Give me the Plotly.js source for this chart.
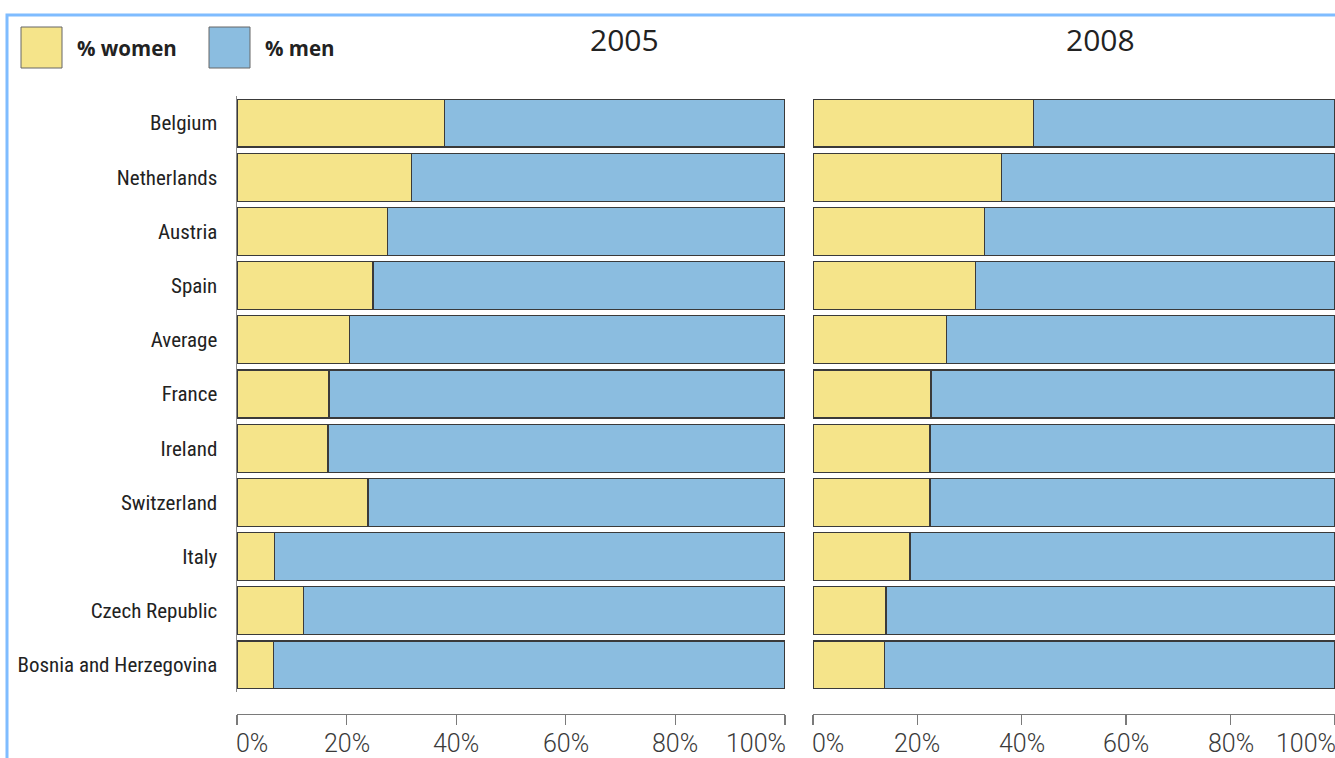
<!DOCTYPE html>
<html>
<head>
<meta charset="utf-8">
<script src="https://cdn.plot.ly/plotly-3.0.1.min.js"></script>
<style>html,body{margin:0;padding:0;background:#fff;}#chart{width:1335px;height:758px;}</style>
</head>
<body>
<div id="chart"></div>
<script>
// ---- data ----
const countries = ["Belgium", "Netherlands", "Austria", "Spain", "Average", "France", "Ireland", "Switzerland", "Italy", "Czech Republic", "Bosnia and Herzegovina"];
const women2005 = [37.8, 31.9, 27.4, 24.8, 20.6, 16.8, 16.6, 23.9, 6.9, 12.2, 6.6];
const men2005   = [62.2, 68.1, 72.6, 75.2, 79.4, 83.2, 83.4, 76.1, 93.1, 87.8, 93.4];
const women2008 = [42.3, 36.1, 32.8, 31.1, 25.6, 22.6, 22.4, 22.4, 18.6, 14.0, 13.7];
const men2008   = [57.7, 63.9, 67.2, 68.9, 74.4, 77.4, 77.6, 77.6, 81.4, 86.0, 86.3];
const panelTitles = ["2005", "2008"];
const seriesNames = ["% women", "% men"];
const tickVals = [0, 20, 40, 60, 80, 100];
const tickText = ["0%", "20%", "40%", "60%", "80%", "100%"];

// ---- style ----
const W = 1335, H = 758;
const yellow = "#f5e48a", blue = "#8bbde0", edge = "#3a3a3a";
const px = v => v / W, py = v => 1 - v / H;
const condensed = "Roboto Condensed, Liberation Sans Narrow, Arial Narrow, DejaVu Sans Condensed, sans-serif";

function barTrace(x, name, color, xa, ya) {
  return {
    type: "bar", orientation: "h", y: countries, x: x, name: name,
    xaxis: xa, yaxis: ya, showlegend: false,
    marker: {color: color, line: {color: edge, width: 1.2}},
    hoverinfo: "x+y"
  };
}

const data = [
  barTrace(women2005, seriesNames[0], yellow, "x", "y"),
  barTrace(men2005, seriesNames[1], blue, "x", "y"),
  barTrace(women2008, seriesNames[0], yellow, "x2", "y2"),
  barTrace(men2008, seriesNames[1], blue, "x2", "y2")
];

const xDomL = [px(237), px(785)];
const xDomR = [px(813), 1];
const yDom = [py(692), py(96)];
const axisPos = py(714);

const xaxisBase = {
  anchor: "free", position: axisPos, showline: true, linecolor: "#7a7a7a", linewidth: 1.4,
  ticks: "outside", ticklen: 10, tickcolor: "#7a7a7a", tickwidth: 1.4,
  tickmode: "array", tickvals: tickVals, showticklabels: false,
  showgrid: false, zeroline: false, fixedrange: true, range: [0, 100]
};

const annotations = [];
// panel titles
annotations.push({text: panelTitles[0], xref: "paper", yref: "paper", x: px(624), y: py(40), showarrow: false,
  xanchor: "center", yanchor: "middle", font: {family: "Open Sans, Noto Sans, sans-serif", size: 30, color: "#222"}});
annotations.push({text: panelTitles[1], xref: "paper", yref: "paper", x: px(1100), y: py(40), showarrow: false,
  xanchor: "center", yanchor: "middle", font: {family: "Open Sans, Noto Sans, sans-serif", size: 30, color: "#222"}});
// x tick labels (edge labels aligned inward as in the original)
["x", "x2"].forEach(ax => {
  tickVals.forEach((v, i) => {
    let anchor = "center";
    if (i === 0) anchor = "left";
    if (i === tickVals.length - 1) anchor = "right";
    annotations.push({text: tickText[i], xref: ax, yref: "paper", x: v, y: py(743), showarrow: false,
      xanchor: anchor, yanchor: "middle", xshift: i === 0 ? -3 : (i === tickVals.length - 1 ? 3 : 0),
      font: {family: "Roboto, Open Sans, sans-serif", size: 25, weight: 300, color: "#3a3a3a"}});
  });
});
// legend texts
annotations.push({text: "<b>" + seriesNames[0] + "</b>", xref: "paper", yref: "paper", x: px(75), y: py(48), showarrow: false,
  xanchor: "left", yanchor: "middle", font: {family: "Open Sans, Noto Sans, sans-serif", size: 20.5, color: "#222"}});
annotations.push({text: "<b>" + seriesNames[1] + "</b>", xref: "paper", yref: "paper", x: px(263), y: py(48), showarrow: false,
  xanchor: "left", yanchor: "middle", font: {family: "Open Sans, Noto Sans, sans-serif", size: 20.5, color: "#222"}});

const shapes = [
  // outer frame
  {type: "rect", xref: "paper", yref: "paper", x0: px(7), x1: 1.02, y0: -0.02, y1: py(15),
   line: {color: "#7fbcff", width: 3}, fillcolor: "rgba(0,0,0,0)", layer: "below"},
  // legend swatches
  {type: "rect", xref: "paper", yref: "paper", x0: px(21), x1: px(62), y0: py(68), y1: py(27),
   line: {color: "#666", width: 1}, fillcolor: yellow},
  {type: "rect", xref: "paper", yref: "paper", x0: px(209), x1: px(250), y0: py(68), y1: py(27),
   line: {color: "#666", width: 1}, fillcolor: blue}
];

const layout = {
  width: W, height: H,
  margin: {l: 0, r: 0, t: 0, b: 0},
  paper_bgcolor: "#fff", plot_bgcolor: "rgba(0,0,0,0)",
  barmode: "stack", bargap: 0.115,
  showlegend: false,
  xaxis: Object.assign({}, xaxisBase, {domain: xDomL}),
  xaxis2: Object.assign({}, xaxisBase, {domain: xDomR}),
  yaxis: {
    domain: yDom, anchor: "x", type: "category", categoryorder: "array", categoryarray: countries,
    range: [countries.length - 0.5, -0.5],
    showline: true, linecolor: "#888", linewidth: 1.5, ticks: "", ticklabelstandoff: 14,
    tickfont: {family: condensed, size: 21, color: "#222", stretch: "condensed"},
    showgrid: false, zeroline: false, fixedrange: true
  },
  yaxis2: {
    domain: yDom, anchor: "x2", type: "category", categoryorder: "array", categoryarray: countries,
    range: [countries.length - 0.5, -0.5],
    showline: false, showticklabels: false, ticks: "",
    showgrid: false, zeroline: false, fixedrange: true
  },
  shapes: shapes,
  annotations: annotations
};

Plotly.newPlot("chart", data, layout, {displayModeBar: false, staticPlot: true});
</script>
</body>
</html>
